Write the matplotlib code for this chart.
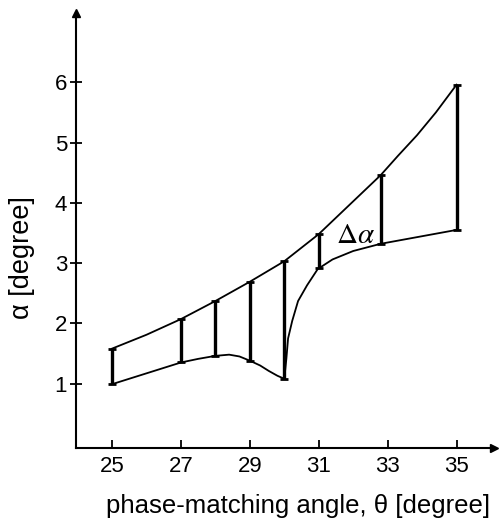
import matplotlib.pyplot as plt
import numpy as np

plt.rcParams['font.family'] = ['Liberation Sans', 'DejaVu Sans']
plt.rcParams['mathtext.fontset'] = 'stix'

# curves (theta in degree, alpha in degree)
upper_x = [25, 26, 27, 28, 29, 30, 31, 32.8, 33.3, 33.85, 34.4, 35]
upper_y = [1.58, 1.81, 2.07, 2.37, 2.69, 3.03, 3.48, 4.46, 4.78, 5.12, 5.5, 5.96]

lower_x = [25, 27, 27.5, 28, 28.4, 28.7, 29, 29.3, 29.55, 29.8, 30,
           30.06, 30.11, 30.23, 30.4, 30.66, 30.97, 31.4, 32, 32.8, 35]
lower_y = [0.99, 1.35, 1.41, 1.46, 1.48, 1.45, 1.38, 1.3, 1.21, 1.13, 1.08,
           1.41, 1.75, 2.04, 2.37, 2.63, 2.9, 3.06, 3.2, 3.32, 3.55]

# angles where the spread is marked
bar_x = [25, 27, 28, 29, 30, 31, 32.8, 35]

xticks = [25, 27, 29, 31, 33, 35]
yticks = [1, 2, 3, 4, 5, 6]

fig = plt.figure(figsize=(5.01, 5.18), dpi=100)
ax = fig.add_axes([0.152, 0.135, 0.835, 0.84])

ax.plot(upper_x, upper_y, color='black', lw=1.3)
ax.plot(lower_x, lower_y, color='black', lw=1.3)

bar_top = np.interp(bar_x, upper_x, upper_y)
bar_bot = np.interp(bar_x, lower_x, lower_y)
ax.vlines(bar_x, bar_bot, bar_top, color='black', lw=2.4)
ax.plot(bar_x, bar_top, '_', color='black', ms=6, mew=2)
ax.plot(bar_x, bar_bot, '_', color='black', ms=6, mew=2)

ax.text(31.5, 3.47, r'$\Delta\alpha$', fontsize=21, ha='left', va='center')

ax.set_xlim(23.96, 36.1)
ax.set_ylim(-0.07, 7.15)
ax.spines['top'].set_visible(False)
ax.spines['right'].set_visible(False)
ax.spines['left'].set_linewidth(1.5)
ax.spines['bottom'].set_linewidth(1.5)

# arrow heads on the axes
ax.plot(1, 0, '>', color='black', ms=6, transform=ax.transAxes, clip_on=False)
ax.plot(0, 1, '^', color='black', ms=6, transform=ax.transAxes, clip_on=False)

ax.set_xticks(xticks)
ax.set_yticks(yticks)
ax.tick_params(axis='x', direction='in', length=6, width=1.3, labelsize=16, pad=6)
ax.tick_params(axis='y', direction='inout', length=9, width=1.3, labelsize=16, pad=2)

ax.set_xlabel('phase-matching angle, \u03b8 [degree]', fontsize=18.5)
ax.set_ylabel('\u03b1 [degree]', fontsize=19.5)
ax.xaxis.set_label_coords(0.53, -0.105)
ax.yaxis.set_label_coords(-0.098, 0.437)

fig.savefig('out.png', dpi=100)
